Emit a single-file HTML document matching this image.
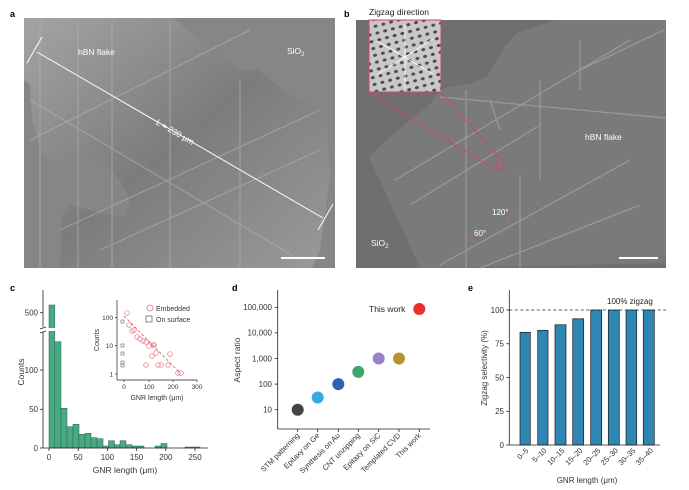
<!DOCTYPE html>
<html><head><meta charset="utf-8"><style>
html,body{margin:0;padding:0;background:#fff}
svg{display:block;font-family:"Liberation Sans",sans-serif}
</style></head><body>
<svg width="689" height="490" viewBox="0 0 689 490" xmlns="http://www.w3.org/2000/svg">
<defs>
<pattern id="dots" width="8" height="7" patternUnits="userSpaceOnUse" patternTransform="rotate(-15)">
<rect width="8" height="7" fill="#c8c8c8"/>
<ellipse cx="4" cy="3.5" rx="2" ry="1.5" fill="#4a4a4a"/>
</pattern>
<linearGradient id="ga" x1="0" y1="0" x2="1" y2="1">
<stop offset="0" stop-color="#a4a4a4"/><stop offset="0.5" stop-color="#7c7c7c"/><stop offset="1" stop-color="#9a9a9a"/>
</linearGradient>
</defs>
<!-- Panel a -->
<text x="10" y="17" font-size="9" font-weight="bold">a</text>
<rect x="24" y="18" width="311" height="250" fill="#868686"/>
<polygon points="24,18 173,18 200,40 240,70 258,70 290,95 325,110 330,175 325,215 320,250 312,268 60,268 62,215 70,205 100,213 125,218 130,200 120,180 100,160 75,157 55,165 40,150 32,120 30,85 24,80" fill="url(#ga)"/>
<g stroke="#b0b0b0" stroke-width="1.2" opacity="0.6">
<line x1="40" y1="20" x2="40" y2="268"/><line x1="78" y1="20" x2="78" y2="268"/><line x1="112" y1="20" x2="112" y2="268"/>
<line x1="30" y1="100" x2="300" y2="260"/><line x1="60" y1="230" x2="320" y2="110"/><line x1="100" y1="250" x2="320" y2="150"/>
<line x1="30" y1="140" x2="250" y2="30"/><line x1="170" y1="20" x2="170" y2="268"/><line x1="240" y1="80" x2="240" y2="268"/>
</g>
<line x1="37" y1="52" x2="323" y2="218" stroke="#fff" stroke-width="1"/>
<line x1="27" y1="63" x2="42" y2="37" stroke="#fff" stroke-width="1"/>
<line x1="318" y1="230" x2="333" y2="204" stroke="#fff" stroke-width="1"/>
<text x="78" y="55" font-size="8.5" fill="#fff">hBN flake</text>
<text x="287" y="54" font-size="8.5" fill="#fff">SiO<tspan font-size="6" dy="2">2</tspan></text>
<text x="150" y="136" font-size="8.5" fill="#fff" transform="rotate(30 175 140)">L ≈ 230 μm</text>
<line x1="281" y1="258" x2="325" y2="258" stroke="#fff" stroke-width="2"/>
<!-- Panel b -->
<text x="344" y="17" font-size="9" font-weight="bold">b</text>
<text x="369" y="15" font-size="8.5" fill="#222">Zigzag direction</text>
<rect x="356" y="20" width="310" height="248" fill="#6f6f6f"/>
<polygon points="369,157 394,133 427,107 444,88 471,83 487,77 504,47 517,33 557,20 666,20 666,263 441,268 420,268" fill="#7a7a7a"/>
<g stroke="#9a9a9a" stroke-width="1.2">
<line x1="466" y1="90" x2="466" y2="268"/><line x1="395" y1="180" x2="630" y2="40"/><line x1="410" y1="205" x2="540" y2="125"/>
<line x1="440" y1="265" x2="630" y2="160"/><line x1="480" y1="268" x2="640" y2="205"/><line x1="520" y1="175" x2="520" y2="268"/>
<line x1="540" y1="80" x2="540" y2="180"/><line x1="580" y1="70" x2="664" y2="30"/><line x1="500" y1="130" x2="490" y2="100"/>
<line x1="440" y1="97" x2="666" y2="118"/><line x1="580" y1="40" x2="580" y2="90"/>
</g>
<g stroke="#d24468" stroke-width="0.9" fill="none">
<line x1="369" y1="92" x2="496" y2="170"/><line x1="441" y1="92" x2="503" y2="162"/>
<rect x="496" y="162" width="7" height="8"/>
</g>
<rect x="369" y="20" width="72" height="72" fill="url(#dots)" stroke="#d24468" stroke-width="1"/>
<g stroke="#fff" stroke-width="0.8"><line x1="405" y1="25" x2="405" y2="89"/><line x1="377" y1="75" x2="433" y2="39"/><line x1="377" y1="41" x2="433" y2="74"/></g>
<text x="585" y="140" font-size="8.5" fill="#fff">hBN flake</text>
<text x="371" y="246" font-size="8.5" fill="#fff">SiO<tspan font-size="6" dy="2">2</tspan></text>
<text x="492" y="215" font-size="8" fill="#fff">120°</text>
<text x="474" y="236" font-size="8" fill="#fff">60°</text>
<g stroke="#e86a30" stroke-width="1" stroke-dasharray="2,2"><line x1="510" y1="212" x2="518" y2="208"/><line x1="510" y1="215" x2="508" y2="225"/><line x1="466" y1="236" x2="477" y2="244"/></g>
<line x1="619" y1="258" x2="658" y2="258" stroke="#fff" stroke-width="2"/>
<!-- Panel c -->
<text x="10" y="291" font-size="9" font-weight="bold">c</text>
<g fill="#48aa84" stroke="#2e5e4c" stroke-width="0.5">
<rect x="49" y="305" width="5.8" height="143"/>
<rect x="54.8" y="341.7" width="6.2" height="106.3"/>
<rect x="61" y="408.3" width="6" height="39.7"/>
<rect x="67" y="426.7" width="6" height="21.3"/>
<rect x="73" y="424.3" width="6" height="23.7"/>
<rect x="79" y="434.3" width="6" height="13.7"/>
<rect x="85" y="433.3" width="6" height="14.7"/>
<rect x="91" y="437.7" width="6" height="10.3"/>
<rect x="97" y="438.7" width="6" height="9.3"/>
<rect x="103" y="446" width="5.5" height="2"/>
<rect x="108.5" y="440.7" width="6" height="7.3"/>
<rect x="114.5" y="444.7" width="5.5" height="3.3"/>
<rect x="120" y="440.7" width="6" height="7.3"/>
<rect x="126" y="444.7" width="6" height="3.3"/>
<rect x="132" y="446" width="6" height="2"/>
<rect x="138" y="446" width="6" height="2"/>
<rect x="155" y="446" width="6" height="2"/>
<rect x="161" y="443.5" width="6" height="4.5"/>
<rect x="185" y="447" width="15" height="1"/>
</g>
<rect x="40" y="328" width="130" height="3" fill="#fff"/>
<g stroke="#222" stroke-width="0.8" fill="none">
<line x1="43" y1="290" x2="43" y2="327"/><line x1="43" y1="332" x2="43" y2="448"/><line x1="43" y1="448" x2="208" y2="448"/>
<line x1="40" y1="329" x2="46" y2="327"/><line x1="40" y1="333" x2="46" y2="331"/>
<line x1="40" y1="312.7" x2="43" y2="312.7"/><line x1="40" y1="370" x2="43" y2="370"/><line x1="40" y1="409.3" x2="43" y2="409.3"/><line x1="40" y1="448" x2="43" y2="448"/>
<line x1="49" y1="448" x2="49" y2="451"/><line x1="78.2" y1="448" x2="78.2" y2="451"/><line x1="107.4" y1="448" x2="107.4" y2="451"/><line x1="136.6" y1="448" x2="136.6" y2="451"/><line x1="165.8" y1="448" x2="165.8" y2="451"/><line x1="195" y1="448" x2="195" y2="451"/>
</g>
<g font-size="8" fill="#333" text-anchor="end"><text x="38" y="315.5">500</text><text x="38" y="373">100</text><text x="38" y="412">50</text><text x="38" y="451">0</text></g>
<g font-size="8" fill="#333" text-anchor="middle"><text x="49" y="460">0</text><text x="78.2" y="460">50</text><text x="107.4" y="460">100</text><text x="136.6" y="460">150</text><text x="165.8" y="460">200</text><text x="195" y="460">250</text></g>
<text x="125" y="473" font-size="8.5" fill="#333" text-anchor="middle">GNR length (μm)</text>
<text x="24" y="372" font-size="8.5" fill="#333" text-anchor="middle" transform="rotate(-90 24 372)">Counts</text>
<!-- inset -->
<g stroke="#222" stroke-width="0.7" fill="none">
<line x1="117" y1="300" x2="117" y2="380"/><line x1="117" y1="380" x2="197" y2="380"/>
<line x1="115" y1="317.7" x2="117" y2="317.7"/><line x1="115" y1="345.7" x2="117" y2="345.7"/><line x1="115" y1="374" x2="117" y2="374"/>
<line x1="124" y1="380" x2="124" y2="382"/><line x1="149" y1="380" x2="149" y2="382"/><line x1="173" y1="380" x2="173" y2="382"/><line x1="197" y1="380" x2="197" y2="382"/>
</g>
<g font-size="6.5" fill="#333" text-anchor="end"><text x="113" y="320">100</text><text x="113" y="348">10</text><text x="113" y="376.5">1</text></g>
<g font-size="6.5" fill="#333" text-anchor="middle"><text x="124" y="389">0</text><text x="149" y="389">100</text><text x="173" y="389">200</text><text x="197" y="389">300</text></g>
<text x="157" y="400" font-size="7" fill="#333" text-anchor="middle">GNR length (μm)</text>
<text x="99" y="340" font-size="7" fill="#333" text-anchor="middle" transform="rotate(-90 99 340)">Counts</text>
<g fill="none" stroke="#e8707a" stroke-width="0.7">
<circle cx="127" cy="313" r="2.3"/><circle cx="129" cy="325" r="2.3"/><circle cx="132" cy="331" r="2.3"/><circle cx="134" cy="330" r="2.3"/>
<circle cx="137" cy="337" r="2.3"/><circle cx="140" cy="339" r="2.3"/><circle cx="143" cy="341" r="2.3"/><circle cx="146" cy="342" r="2.3"/>
<circle cx="149" cy="346" r="2.3"/><circle cx="153" cy="345" r="2.3"/><circle cx="154" cy="345" r="2.3"/><circle cx="152" cy="356" r="2.3"/>
<circle cx="156" cy="353" r="2.3"/><circle cx="146" cy="365" r="2.3"/><circle cx="158" cy="365" r="2.3"/><circle cx="161" cy="365" r="2.3"/>
<circle cx="170" cy="354" r="2.3"/><circle cx="168" cy="365" r="2.3"/><circle cx="178" cy="373" r="2.3"/><circle cx="181" cy="373" r="2.3"/>
</g>
<g fill="none" stroke="#666" stroke-width="0.6">
<rect x="121" y="320" width="3" height="3"/><rect x="121" y="344" width="3" height="3"/><rect x="121" y="352" width="3" height="3"/><rect x="121" y="361" width="3" height="3"/><rect x="121" y="364" width="3" height="3"/>
</g>
<g stroke="#d23a5a" stroke-width="0.7"><line x1="124" y1="316" x2="180" y2="373" stroke-dasharray="3,2"/></g>
<circle cx="150" cy="308" r="3" fill="none" stroke="#e8707a" stroke-width="0.8"/>
<text x="156" y="311" font-size="7" fill="#333">Embedded</text>
<rect x="146" y="316" width="6" height="6" fill="none" stroke="#555" stroke-width="0.7"/>
<text x="156" y="322" font-size="7" fill="#333">On surface</text>
<!-- Panel d -->
<text x="232" y="291" font-size="9" font-weight="bold">d</text>
<g stroke="#222" stroke-width="0.8" fill="none">
<line x1="277.7" y1="290" x2="277.7" y2="429"/><line x1="277.7" y1="429" x2="430" y2="429"/>
<line x1="274.7" y1="307.3" x2="277.7" y2="307.3"/><line x1="274.7" y1="332.9" x2="277.7" y2="332.9"/><line x1="274.7" y1="358.5" x2="277.7" y2="358.5"/><line x1="274.7" y1="384.1" x2="277.7" y2="384.1"/><line x1="274.7" y1="409.7" x2="277.7" y2="409.7"/>
<line x1="297.7" y1="429" x2="297.7" y2="432"/><line x1="317.7" y1="429" x2="317.7" y2="432"/><line x1="338.3" y1="429" x2="338.3" y2="432"/><line x1="358.3" y1="429" x2="358.3" y2="432"/><line x1="378.7" y1="429" x2="378.7" y2="432"/><line x1="399" y1="429" x2="399" y2="432"/><line x1="419.3" y1="429" x2="419.3" y2="432"/>
</g>
<g font-size="8" fill="#333" text-anchor="end"><text x="272" y="310">100,000</text><text x="272" y="335.7">10,000</text><text x="272" y="361.3">1,000</text><text x="272" y="387">100</text><text x="272" y="412.5">10</text></g>
<text x="240" y="360" font-size="8.5" fill="#333" text-anchor="middle" transform="rotate(-90 240 360)">Aspect ratio</text>
<circle cx="297.7" cy="409.7" r="6" fill="#444"/>
<circle cx="317.7" cy="397.5" r="6" fill="#3aa8e0"/>
<circle cx="338.3" cy="384.1" r="6" fill="#2f62b3"/>
<circle cx="358.3" cy="371.9" r="6" fill="#3ea56c"/>
<circle cx="378.7" cy="358.5" r="6" fill="#9a80c6"/>
<circle cx="399" cy="358.5" r="6" fill="#b8922c"/>
<circle cx="419.3" cy="309" r="6" fill="#e8302e"/>
<text x="369" y="312" font-size="8.5" fill="#222">This work</text>
<g font-size="7.5" fill="#333" text-anchor="end">
<text transform="translate(300,436) rotate(-45)">STM patterning</text>
<text transform="translate(320,436) rotate(-45)">Epitaxy on Ge</text>
<text transform="translate(340.5,436) rotate(-45)">Synthesis on Au</text>
<text transform="translate(360.5,436) rotate(-45)">CNT unzipping</text>
<text transform="translate(381,436) rotate(-45)">Epitaxy on SiC</text>
<text transform="translate(401,436) rotate(-45)">Templated CVD</text>
<text transform="translate(421.5,436) rotate(-45)">This work</text>
</g>
<!-- Panel e -->
<text x="468" y="291" font-size="9" font-weight="bold">e</text>
<g fill="#2e87b2" stroke="#1a1a1a" stroke-width="0.7">
<rect x="520" y="332.3" width="10.3" height="112.7"/>
<rect x="537.7" y="330.3" width="10.3" height="114.7"/>
<rect x="555" y="324.8" width="11" height="120.2"/>
<rect x="572.7" y="318.8" width="11" height="126.2"/>
<rect x="590.7" y="310" width="11" height="135"/>
<rect x="608.3" y="310" width="11" height="135"/>
<rect x="626" y="310" width="10.7" height="135"/>
<rect x="643.3" y="310" width="11" height="135"/>
</g>
<line x1="509.3" y1="310" x2="666" y2="310" stroke="#222" stroke-width="0.8" stroke-dasharray="3,2.5"/>
<text x="607" y="304" font-size="8" fill="#222">100% zigzag</text>
<g stroke="#222" stroke-width="0.8" fill="none">
<line x1="509.3" y1="290" x2="509.3" y2="445"/><line x1="509.3" y1="445" x2="660" y2="445"/>
<line x1="506.3" y1="310" x2="509.3" y2="310"/><line x1="506.3" y1="343.75" x2="509.3" y2="343.75"/><line x1="506.3" y1="377.5" x2="509.3" y2="377.5"/><line x1="506.3" y1="411.25" x2="509.3" y2="411.25"/><line x1="506.3" y1="445" x2="509.3" y2="445"/>
</g>
<g font-size="8" fill="#333" text-anchor="end"><text x="504" y="313">100</text><text x="504" y="346.5">75</text><text x="504" y="380.5">50</text><text x="504" y="414">25</text><text x="504" y="448">0</text></g>
<text x="487" y="368" font-size="8" fill="#333" text-anchor="middle" transform="rotate(-90 487 368)">Zigzag selectivity (%)</text>
<g font-size="7.5" fill="#333" text-anchor="end">
<text transform="translate(529,451) rotate(-45)">0–5</text>
<text transform="translate(547,451) rotate(-45)">5–10</text>
<text transform="translate(565,451) rotate(-45)">10–15</text>
<text transform="translate(583,451) rotate(-45)">15–20</text>
<text transform="translate(601,451) rotate(-45)">20–25</text>
<text transform="translate(618.5,451) rotate(-45)">25–30</text>
<text transform="translate(636,451) rotate(-45)">30–35</text>
<text transform="translate(653.5,451) rotate(-45)">35–40</text>
</g>
<text x="587" y="483" font-size="8" fill="#333" text-anchor="middle">GNR length (μm)</text>
</svg>
</body></html>
